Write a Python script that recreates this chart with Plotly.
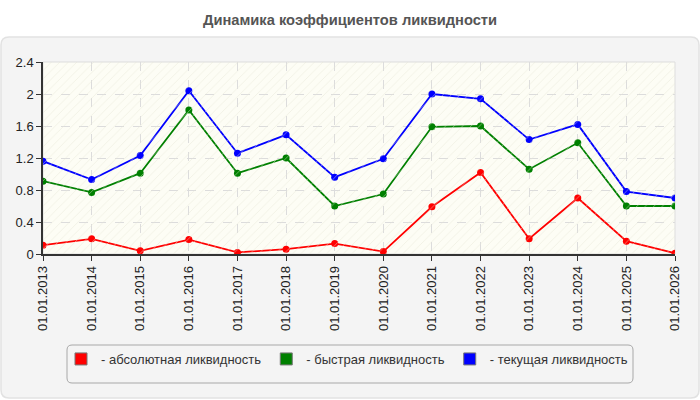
import plotly.graph_objects as go

dates = ["01.01.2013", "01.01.2014", "01.01.2015", "01.01.2016", "01.01.2017",
         "01.01.2018", "01.01.2019", "01.01.2020", "01.01.2021", "01.01.2022",
         "01.01.2023", "01.01.2024", "01.01.2025", "01.01.2026"]
absolute = [0.11, 0.19, 0.04, 0.18, 0.02, 0.06, 0.13, 0.03, 0.59, 1.02, 0.19, 0.70, 0.16, 0.01]
quick = [0.91, 0.77, 1.01, 1.80, 1.01, 1.20, 0.60, 0.75, 1.59, 1.60, 1.06, 1.39, 0.60, 0.60]
current = [1.16, 0.93, 1.23, 2.04, 1.26, 1.49, 0.96, 1.19, 2.00, 1.94, 1.43, 1.62, 0.78, 0.70]

series_names = ["- абсолютная ликвидность", "- быстрая ликвидность", "- текущая ликвидность"]
series_colors = ["#ff0000", "#008000", "#0000ff"]
series_values = [absolute, quick, current]
y_ticks = [0, 0.4, 0.8, 1.2, 1.6, 2, 2.4]

W, H = 700, 400
L, R, T, B = 43, 25, 62, 146
pw, ph = W - L - R, H - T - B


def px(x):
    return (x - L) / pw


def py(y):
    return (H - B - y) / ph


def rounded(x0, y0, x1, y1, r):
    # pixel rect -> path in paper coords with rounded corners
    rx, ry = r / pw, r / ph
    a, b, c, d = px(x0), py(y0), px(x1), py(y1)  # b top, d bottom
    return (f"M{a+rx},{b} L{c-rx},{b} Q{c},{b} {c},{b-ry} L{c},{d+ry} Q{c},{d} {c-rx},{d} "
            f"L{a+rx},{d} Q{a},{d} {a},{d+ry} L{a},{b-ry} Q{a},{b} {a+rx},{b} Z")


fig = go.Figure()

# hatched plot background
fig.add_trace(go.Scatter(
    x=[0, 1, 1, 0, 0], y=[0, 0, 1, 1, 0], xaxis="x2", yaxis="y2",
    mode="lines", fill="toself", line=dict(width=0),
    fillcolor="rgba(0,0,0,0)",
    fillpattern=dict(shape="/", fgcolor="#e6e6d6", bgcolor="rgba(0,0,0,0)", size=6, solidity=0.15),
    hoverinfo="skip", showlegend=False))

for name, color, vals in zip(series_names, series_colors, series_values):
    fig.add_trace(go.Scatter(
        x=dates, y=vals, mode="lines+markers", name=name,
        line=dict(color=color, width=1.8),
        marker=dict(color=color, size=7),
        showlegend=False))

for name, color in zip(series_names, series_colors):
    fig.add_trace(go.Bar(
        x=[None], y=[None], name=name,
        marker=dict(color=color, line=dict(color="#777777", width=1)),
        showlegend=True))

shapes = [
    dict(type="path", xref="paper", yref="paper", layer="below",
         path=rounded(1, 37, 699, 398, 8),
         fillcolor="#f4f4f4", line=dict(color="#e2e2e2", width=1.5)),
    dict(type="path", xref="paper", yref="paper", layer="below",
         path=rounded(67, 345, 633, 383, 5),
         fillcolor="#f4f4f4", line=dict(color="#a8a8a8", width=1)),
    dict(type="rect", xref="paper", yref="paper", layer="below",
         x0=0, x1=1, y0=0, y1=1, fillcolor="#fdfdf5", line=dict(color="#dddddd", width=1)),
]

fig.update_layout(
    width=W, height=H,
    margin=dict(l=L, r=R, t=T, b=B),
    paper_bgcolor="#ffffff",
    plot_bgcolor="rgba(0,0,0,0)",
    font=dict(family="Liberation Sans, Arial, sans-serif", size=13, color="#222222"),
    title=dict(text="<b>Динамика коэффициентов ликвидности</b>", x=0.5, xref="container",
               xanchor="center", y=1 - 20 / H, yanchor="middle",
               font=dict(size=14.7, color="#555555")),
    shapes=shapes,
    showlegend=True,
    legend=dict(orientation="h", x=px(61), y=py(344), xanchor="left", yanchor="top",
                bgcolor="rgba(0,0,0,0)", borderwidth=0,
                font=dict(size=13, color="#333333"),
                entrywidth=0, itemwidth=30, traceorder="normal"),
    xaxis=dict(type="category", range=[0, 13], showgrid=True, gridcolor="#dcdcdc",
               griddash="dash", gridwidth=1, zeroline=False,
               showline=True, linecolor="#333333", linewidth=1.5,
               ticks="outside", ticklen=5, tickcolor="#333333",
               tickangle=-90, tickfont=dict(size=13, color="#222222"), fixedrange=True),
    yaxis=dict(range=[0, 2.4], tickvals=y_ticks, ticktext=[f"{v:g}" for v in y_ticks],
               showgrid=True, gridcolor="#dcdcdc", griddash="dash", gridwidth=1,
               zeroline=False, showline=True, linecolor="#333333", linewidth=1.5,
               ticks="outside", ticklen=5, tickcolor="#333333",
               tickfont=dict(size=13, color="#222222"), fixedrange=True),
    xaxis2=dict(overlaying="x", range=[0, 1], visible=False, fixedrange=True),
    yaxis2=dict(overlaying="y", range=[0, 1], visible=False, fixedrange=True),
)

fig.write_html("out.html")
